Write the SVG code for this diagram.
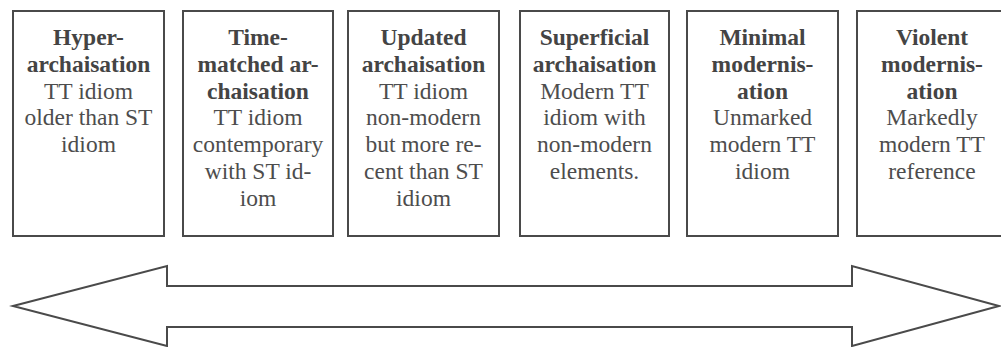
<svg xmlns="http://www.w3.org/2000/svg" width="1001" height="347" viewBox="0 0 1001 347">
<style>
.box{fill:#fff;stroke:#4a4a4a;stroke-width:2}
.t{font-family:'Liberation Serif','DejaVu Serif',serif;font-size:23.5px;fill:#4d4d4d;text-anchor:middle}
.b{font-weight:bold;fill:#444}
.arrow{fill:#fff;stroke:#4a4a4a;stroke-width:2;stroke-linejoin:miter}
</style>
<rect width="1001" height="347" fill="#fff"/>
<g id="node-hyper" class="t">
<rect class="box" x="13" y="11" width="151" height="225"/>
<text x="88.5" y="45" class="b">Hyper-</text>
<text x="88.5" y="71.8" class="b">archaisation</text>
<text x="88.5" y="98.6">TT idiom</text>
<text x="88.5" y="125.4">older than ST</text>
<text x="88.5" y="152.2">idiom</text>
</g>
<g id="node-timematched" class="t">
<rect class="box" x="183" y="11" width="150" height="225"/>
<text x="258" y="45" class="b">Time-</text>
<text x="258" y="71.8" class="b">matched ar-</text>
<text x="258" y="98.6" class="b">chaisation</text>
<text x="258" y="125.4">TT idiom</text>
<text x="258" y="152.2">contemporary</text>
<text x="258" y="179">with ST id-</text>
<text x="258" y="205.8">iom</text>
</g>
<g id="node-updated" class="t">
<rect class="box" x="348" y="11" width="151" height="225"/>
<text x="423.5" y="45" class="b">Updated</text>
<text x="423.5" y="71.8" class="b">archaisation</text>
<text x="423.5" y="98.6">TT idiom</text>
<text x="423.5" y="125.4">non-modern</text>
<text x="423.5" y="152.2">but more re-</text>
<text x="423.5" y="179">cent than ST</text>
<text x="423.5" y="205.8">idiom</text>
</g>
<g id="node-superficial" class="t">
<rect class="box" x="520" y="11" width="149" height="225"/>
<text x="594.5" y="45" class="b">Superficial</text>
<text x="594.5" y="71.8" class="b">archaisation</text>
<text x="594.5" y="98.6">Modern TT</text>
<text x="594.5" y="125.4">idiom with</text>
<text x="594.5" y="152.2">non-modern</text>
<text x="594.5" y="179">elements.</text>
</g>
<g id="node-minimal" class="t">
<rect class="box" x="687" y="11" width="151" height="225"/>
<text x="762.5" y="45" class="b">Minimal</text>
<text x="762.5" y="71.8" class="b">modernis-</text>
<text x="762.5" y="98.6" class="b">ation</text>
<text x="762.5" y="125.4">Unmarked</text>
<text x="762.5" y="152.2">modern TT</text>
<text x="762.5" y="179">idiom</text>
</g>
<g id="node-violent" class="t">
<rect class="box" x="857" y="11" width="150" height="225"/>
<text x="932" y="45" class="b">Violent</text>
<text x="932" y="71.8" class="b">modernis-</text>
<text x="932" y="98.6" class="b">ation</text>
<text x="932" y="125.4">Markedly</text>
<text x="932" y="152.2">modern TT</text>
<text x="932" y="179">reference</text>
</g>
<g id="connectors">
<path class="arrow" d="M13,306 L167,266 L167,286 L852,286 L852,266 L999,306 L852,346 L852,327 L167,327 L167,346 Z"/>
</g>
</svg>
